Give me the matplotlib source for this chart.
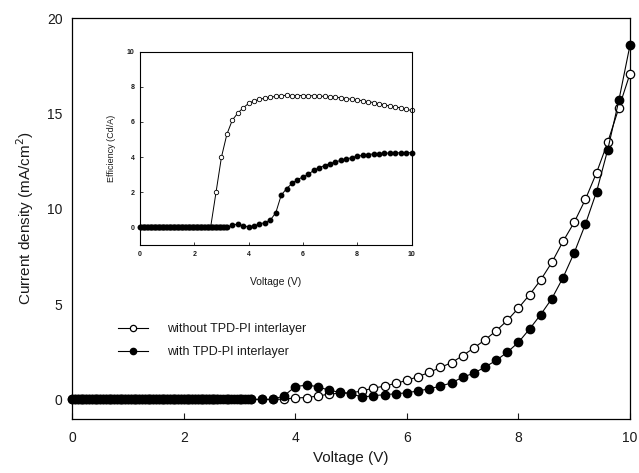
import matplotlib as mpl
mpl.use('Agg')
import matplotlib.pyplot as plt

plt.rcParams['font.family'] = ['Liberation Sans', 'DejaVu Sans']

# voltage grids: dense part near 0 V (0.05 V), then 0.2 V steps
v_dense_open = [0.0, 0.05, 0.1, 0.15, 0.2, 0.25, 0.3, 0.35, 0.4, 0.45, 0.5, 0.55, 0.6,
                0.65, 0.7, 0.75, 0.8, 0.85, 0.9, 0.95, 1.0, 1.05, 1.1, 1.15, 1.2, 1.25,
                1.3, 1.35, 1.4, 1.45, 1.5, 1.55, 1.6, 1.65, 1.7, 1.75, 1.8, 1.85, 1.9,
                1.95, 2.0, 2.05, 2.1, 2.15, 2.2, 2.25, 2.3, 2.35, 2.4, 2.45, 2.5, 2.55,
                2.6]
v_dense_fill = v_dense_open + [2.65, 2.7, 2.75, 2.8, 2.85, 2.9, 2.95, 3.0, 3.05, 3.1,
                               3.15, 3.2]
v_open = [2.8, 3.0, 3.2, 3.4, 3.6, 3.8, 4.0, 4.2, 4.4, 4.6, 4.8, 5.0, 5.2, 5.4, 5.6,
          5.8, 6.0, 6.2, 6.4, 6.6, 6.8, 7.0, 7.2, 7.4, 7.6, 7.8, 8.0, 8.2, 8.4, 8.6,
          8.8, 9.0, 9.2, 9.4, 9.6, 9.8, 10.0]
v_fill = v_open[3:]

zero_open = [0, 0, 0, 0, 0, 0, 0, 0, 0, 0, 0, 0, 0, 0, 0, 0, 0, 0, 0, 0, 0, 0, 0, 0,
             0, 0, 0, 0, 0, 0, 0, 0, 0, 0, 0, 0, 0, 0, 0, 0, 0, 0, 0, 0, 0, 0, 0, 0,
             0, 0, 0, 0, 0]
zero_fill = zero_open + [0, 0, 0, 0, 0, 0, 0, 0, 0, 0, 0, 0]

# current density (mA/cm2)
j_open = [0, 0, 0, 0, 0, 0.02, 0.08, 0.1, 0.18, 0.28, 0.33, 0.35, 0.45, 0.6, 0.7,
          0.85, 1.0, 1.2, 1.42, 1.68, 1.93, 2.3, 2.7, 3.13, 3.6, 4.15, 4.8, 5.5, 6.28,
          7.2, 8.3, 9.3, 10.5, 11.9, 13.5, 15.3, 17.1]
j_fill = [0, 0, 0.2, 0.68, 0.75, 0.68, 0.48, 0.38, 0.3, 0.12, 0.2, 0.25, 0.3, 0.35,
          0.45, 0.56, 0.7, 0.87, 1.17, 1.38, 1.7, 2.05, 2.48, 3.0, 3.7, 4.46, 5.3,
          6.4, 7.7, 9.2, 10.9, 13.1, 15.7, 18.6]

# efficiency (Cd/A), inset
e_open = [2.0, 4.0, 5.3, 6.1, 6.5, 6.8, 7.05, 7.2, 7.28, 7.35, 7.4, 7.45, 7.48, 7.52,
          7.5, 7.5, 7.5, 7.5, 7.48, 7.47, 7.45, 7.43, 7.4, 7.37, 7.33, 7.28, 7.25,
          7.2, 7.15, 7.1, 7.03, 6.97, 6.9, 6.85, 6.8, 6.72, 6.65]
e_fill = [0.13, 0.19, 0.08, 0.04, 0.08, 0.19, 0.28, 0.42, 0.83, 1.83, 2.21, 2.5,
          2.72, 2.87, 3.02, 3.25, 3.4, 3.52, 3.63, 3.72, 3.82, 3.89, 3.97, 4.05, 4.1,
          4.14, 4.18, 4.2, 4.22, 4.23, 4.23, 4.25, 4.25, 4.25]

labels = ['without TPD-PI interlayer', 'with TPD-PI interlayer']
txt = '#1a1a1a'

fig = plt.figure(figsize=(6.39, 4.73), dpi=100)
ax = fig.add_axes([0.1131, 0.1152, 0.8728, 0.8457])

ax.plot(v_dense_open + v_open, zero_open + j_open, '-o', color='black', lw=0.8,
        ms=6.0, mfc='white', mec='black', mew=0.9, clip_on=False, zorder=3,
        label=labels[0])
ax.plot(v_dense_fill + v_fill, zero_fill + j_fill, '-o', color='black', lw=0.8,
        ms=6.0, mfc='black', mec='black', clip_on=False, zorder=4,
        label=labels[1])

ax.set_xlim(0, 10)
ax.set_ylim(-1, 20)
ax.set_xticks([0, 2, 4, 6, 8, 10])
ax.set_yticks([0, 5, 10, 15, 20])
ax.tick_params(direction='in', length=4, width=0.8, labelsize=10, colors=txt, pad=9)
ax.tick_params(axis='y', length=0, pad=7)
for s in ax.spines.values():
    s.set_linewidth(0.9)
ax.set_xlabel('Voltage (V)', fontsize=11, color=txt, labelpad=4)
ax.set_ylabel('Current density (mA/cm$^2$)', fontsize=11, color=txt, labelpad=8)

leg = ax.legend(loc='upper left', bbox_to_anchor=(0.082, 0.238), frameon=False,
                fontsize=9, handlelength=2.4, handletextpad=1.5,
                borderaxespad=0, borderpad=0, labelspacing=0.85, markerscale=0.75)
for t in leg.get_texts():
    t.set_color(txt)

# inset: efficiency
ins = fig.add_axes([0.2191, 0.482, 0.4249, 0.409])
ins.plot(v_dense_open + v_open, zero_open + e_open, '-o', color='black', lw=0.7,
         ms=3.2, mfc='white', mec='black', mew=0.6, clip_on=False)
ins.plot(v_dense_fill + v_fill, zero_fill + e_fill, '-o', color='black', lw=0.7,
         ms=3.2, mfc='black', mec='black', clip_on=False)
ins.set_xlim(0, 10)
ins.set_ylim(-1, 10)
ins.set_xticks([0, 2, 4, 6, 8, 10])
ins.set_yticks([0, 2, 4, 6, 8, 10])
ins.tick_params(direction='in', length=2, width=0.6, labelsize=5, colors=txt, pad=4)
for t in ins.get_xticklabels() + ins.get_yticklabels():
    t.set_fontweight('bold')
for s in ins.spines.values():
    s.set_linewidth(0.8)
ins.set_xlabel('Voltage (V)', fontsize=7.5, color=txt, labelpad=14)
ins.set_ylabel('Efficiency (Cd/A)', fontsize=6.5, color=txt, labelpad=8)

fig.savefig('out.png', dpi=100)
